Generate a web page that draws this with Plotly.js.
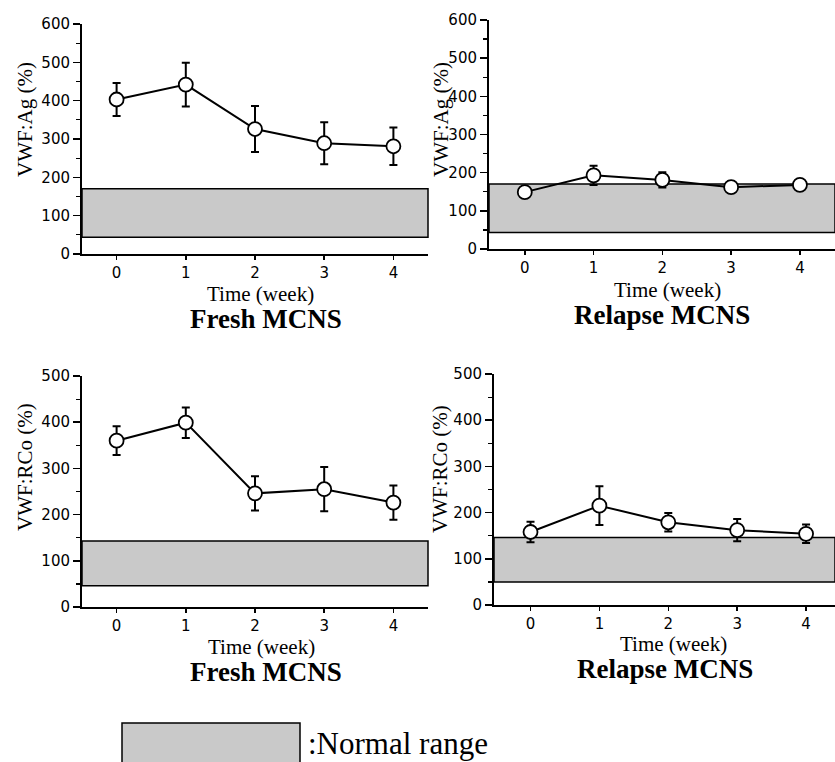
<!DOCTYPE html>
<html>
<head>
<meta charset="utf-8">
<script src="https://cdn.plot.ly/plotly-3.0.1.min.js"></script>
<style>html,body{margin:0;padding:0;background:#fff;}#chart{width:835px;height:762px;}</style>
</head>
<body>
<div id="chart"></div>
<script>
// ---- data ----
const weeks = [0, 1, 2, 3, 4];
const weekTicks = ['0', '1', '2', '3', '4'];

const freshAg = [403, 442, 326, 289, 281];
const freshAgErr = [43, 57, 60, 55, 49];
const relapseAg = [149, 193, 181, 162, 168];
const relapseAgErr = [8, 25, 20, 15, 6];

const freshRCo = [360, 399, 246, 255, 226];
const freshRCoErr = [31, 33, 37, 48, 37];
const relapseRCo = [158, 215, 179, 162, 154];
const relapseRCoErr = [22, 42, 20, 24, 20];

const normalAgFresh = [44, 170];
const normalAgRelapse = [43, 170];
const normalRCoFresh = [46, 143];
const normalRCoRelapse = [50, 146];

const agTicks = [0, 100, 200, 300, 400, 500, 600];
const rcoTicks = [0, 100, 200, 300, 400, 500];

const agTitle = 'VWF:Ag (%)';
const rcoTitle = 'VWF:RCo (%)';
const xTitle = 'Time (week)';
const freshLabel = 'Fresh MCNS';
const relapseLabel = 'Relapse MCNS';
const legendLabel = ':Normal range';

// ---- helpers ----
const W = 835, H = 762;
const px = v => v / W;
const py = v => 1 - v / H;

function trace(n, y, err) {
  return {
    type: 'scatter', mode: 'lines+markers',
    x: weeks, y: y,
    xaxis: 'x' + (n === 1 ? '' : n), yaxis: 'y' + (n === 1 ? '' : n),
    line: {color: 'black', width: 2},
    marker: {symbol: 'circle', size: 14, color: 'white', line: {color: 'black', width: 1.8}},
    error_y: {type: 'data', array: err, visible: true, color: 'black', thickness: 2, width: 4},
    showlegend: false, hoverinfo: 'skip', cliponaxis: false
  };
}

const data = [
  trace(1, freshAg, freshAgErr),
  trace(2, relapseAg, relapseAgErr),
  trace(3, freshRCo, freshRCoErr),
  trace(4, relapseRCo, relapseRCoErr)
];

const tickFont = {family: 'DejaVu Sans, sans-serif', size: 15, color: 'black'};
function xax(domain, anchor, range) {
  return {
    domain: domain, anchor: anchor, range: range,
    tickmode: 'array', tickvals: weeks, ticktext: weekTicks,
    ticks: 'outside', ticklen: 4, tickwidth: 1.5, tickcolor: 'black',
    showline: true, linecolor: 'black', linewidth: 2,
    showgrid: false, zeroline: false, tickfont: tickFont, ticklabelstandoff: 0,
    fixedrange: true
  };
}
function yax(domain, anchor, range, ticks) {
  return {
    domain: domain, anchor: anchor, range: range,
    tickmode: 'array', tickvals: ticks,
    ticks: 'outside', ticklen: 7, tickwidth: 1.5, tickcolor: 'black',
    minor: {dtick: 50, tick0: 0, ticks: 'outside', ticklen: 4, tickwidth: 1.2, tickcolor: 'black'},
    showline: true, linecolor: 'black', linewidth: 2,
    showgrid: false, zeroline: false, tickfont: tickFont,
    fixedrange: true
  };
}

function band(n, rng) {
  const s = n === 1 ? '' : String(n);
  return {
    type: 'rect', layer: 'below',
    xref: 'x' + s + ' domain', yref: 'y' + s,
    x0: 0, x1: 1, y0: rng[0], y1: rng[1],
    fillcolor: '#c9c9c9', line: {color: 'black', width: 1.5}
  };
}

const serif = 'Liberation Serif, Times New Roman, serif';
function ann(text, x, y, size, opts) {
  return Object.assign({
    text: text, xref: 'paper', yref: 'paper', x: px(x), y: py(y),
    xanchor: 'center', yanchor: 'middle', showarrow: false,
    font: {family: serif, size: size, color: 'black'}
  }, opts || {});
}

const layout = {
  width: W, height: H,
  margin: {l: 0, r: 0, t: 0, b: 0},
  paper_bgcolor: 'white', plot_bgcolor: 'rgba(0,0,0,0)',
  showlegend: false,
  xaxis: xax([px(82), px(428)], 'y', [-0.5, 4.5]),
  yaxis: yax([py(254), py(24)], 'x', [0, 600], agTicks),
  xaxis2: xax([px(489), 1], 'y2', [-0.52, 4.51]),
  yaxis2: yax([py(249), py(20)], 'x2', [0, 600], agTicks),
  xaxis3: xax([px(82), px(428)], 'y3', [-0.5, 4.5]),
  yaxis3: yax([py(607), py(376)], 'x3', [0, 500], rcoTicks),
  xaxis4: xax([px(494), 1], 'y4', [-0.53, 4.42]),
  yaxis4: yax([py(605), py(374)], 'x4', [0, 500], rcoTicks),
  shapes: [
    band(1, normalAgFresh), band(2, normalAgRelapse),
    band(3, normalRCoFresh), band(4, normalRCoRelapse),
    {type: 'rect', xref: 'paper', yref: 'paper', x0: px(122), x1: px(300), y0: py(723), y1: py(770),
     fillcolor: '#c9c9c9', line: {color: 'black', width: 1.5}}
  ],
  annotations: [
    ann(agTitle, 25, 120, 21, {textangle: -90}),
    ann(agTitle, 441, 120, 21, {textangle: -90}),
    ann(rcoTitle, 25, 467, 21, {textangle: -90}),
    ann(rcoTitle, 440, 469, 21, {textangle: -90}),
    ann(xTitle, 260, 294, 21),
    ann(xTitle, 667, 290, 21),
    ann(xTitle, 261, 647, 21),
    ann(xTitle, 673, 644, 21),
    ann('<b>' + freshLabel + '</b>', 266, 319, 27),
    ann('<b>' + relapseLabel + '</b>', 662, 315, 27),
    ann('<b>' + freshLabel + '</b>', 266, 672, 27),
    ann('<b>' + relapseLabel + '</b>', 665, 669, 27),
    ann(legendLabel, 306, 743, 31, {xanchor: 'left'})
  ]
};

Plotly.newPlot('chart', data, layout, {staticPlot: true, displayModeBar: false});
</script>
</body>
</html>
